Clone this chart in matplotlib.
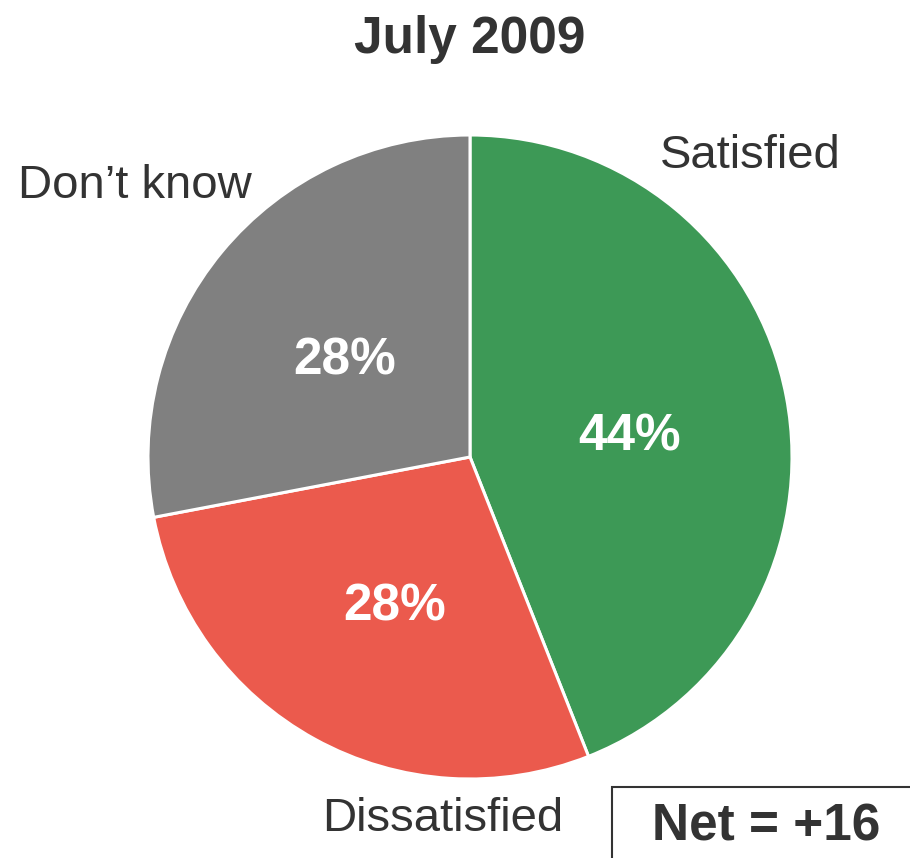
import matplotlib.pyplot as plt
from matplotlib.patches import Rectangle

plt.rcParams['font.family'] = ['Liberation Sans', 'DejaVu Sans']

labels = ["Satisfied", "Dissatisfied", "Don\u2019t know"]
values = [44, 28, 28]
colors = ["#3d9956", "#eb5a4d", "#808080"]
title = "July 2009"
net_text = "Net = +16"

W, H = 910, 858
fig = plt.figure(figsize=(W / 100, H / 100), dpi=100)
ax = fig.add_axes([0, 0, 1, 1])

cx, cy, r = 470, H - 457, 322
wedges, _ = ax.pie(values, colors=colors, startangle=90, counterclock=False,
                   center=(cx, cy), radius=r, frame=True,
                   wedgeprops=dict(edgecolor="white", linewidth=2.2))
ax.set_xlim(0, W)
ax.set_ylim(0, H)
ax.set_aspect("equal")
ax.axis("off")

txt = "#333333"
dy = 4  # small vertical correction for text baselines
ax.text(470, H - 35 - dy, title, ha="center", va="center", fontsize=37,
        fontweight="bold", color=txt)

# outer labels
ax.text(750, H - 152 - dy, labels[0], ha="center", va="center", fontsize=34, color=txt)
ax.text(443, H - 815 - dy, labels[1], ha="center", va="center", fontsize=34, color=txt)
ax.text(135, H - 182 - dy, labels[2], ha="center", va="center", fontsize=34, color=txt)

# percentages
pct_pos = [(630, H - 433), (395, H - 603), (345, H - 357)]
for (x, y), v in zip(pct_pos, values):
    ax.text(x, y - dy, f"{v}%", ha="center", va="center", fontsize=37,
            fontweight="bold", color="white")

ax.add_patch(Rectangle((612, -20), 400, H - 787 + 20, facecolor="white",
                       edgecolor=txt, linewidth=1.5))
ax.text(766, H - 823 - dy, net_text, ha="center", va="center", fontsize=37,
        fontweight="bold", color=txt)

fig.savefig("out.png", dpi=100)
